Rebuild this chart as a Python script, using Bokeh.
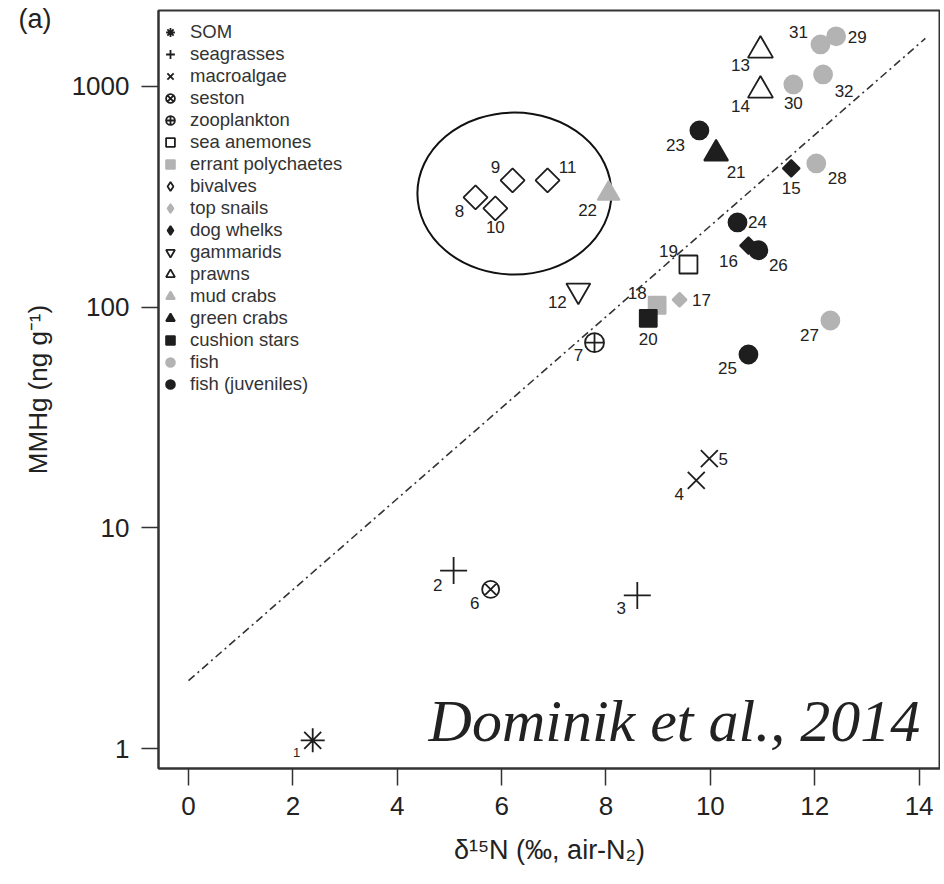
import math
from bokeh.plotting import figure
from bokeh.models import ColumnDataSource, Range1d, FixedTicker, NumeralTickFormatter, Label
from bokeh.embed import file_html
from bokeh.resources import INLINE
from bokeh.core.properties import value

# ---------------- data ----------------
point_id = list(range(1, 33))
d15n = [2.38, 5.08, 8.60, 9.73, 9.98, 5.79, 7.78, 5.50, 6.21, 5.88, 6.88, 7.47,
        10.96, 10.96, 11.55, 10.73, 9.41, 8.98, 9.58, 8.81, 10.11, 8.05, 9.79,
        10.52, 10.73, 10.92, 12.30, 12.03, 12.41, 11.59, 12.11, 12.16]
mmhg = [1.09, 6.4, 4.94, 16.4, 20.6, 5.26, 69, 314, 375, 280, 375, 119,
        1456, 959, 425, 190, 108, 102, 156, 89, 496, 327, 632,
        242, 61, 181, 87, 448, 1687, 1021, 1550, 1133]
group = ["SOM", "seagrasses", "seagrasses", "macroalgae", "macroalgae", "seston",
         "zooplankton", "bivalves", "bivalves", "bivalves", "bivalves", "gammarids",
         "prawns", "prawns", "dog whelks", "dog whelks", "top snails",
         "errant polychaetes", "sea anemones", "cushion stars", "green crabs",
         "mud crabs", "fish (juveniles)", "fish (juveniles)", "fish (juveniles)",
         "fish (juveniles)", "fish", "fish", "fish", "fish", "fish", "fish"]
legend_order = ["SOM", "seagrasses", "macroalgae", "seston", "zooplankton",
                "sea anemones", "errant polychaetes", "bivalves", "top snails",
                "dog whelks", "gammarids", "prawns", "mud crabs", "green crabs",
                "cushion stars", "fish", "fish (juveniles)"]
fit_d15n = [0.0, 14.12]
fit_mmhg = [2.03, 1650.0]
x_ticks = [0, 2, 4, 6, 8, 10, 12, 14]
y_ticks = [1, 10, 100, 1000]
highlight_d15n = [6.245]   # ellipse around the bivalves
highlight_mmhg = [327]

# ---------------- styles ----------------
GREY = "#b3b3b3"
INK = "#1e1e1e"
FONT = "Liberation Sans"
Q = math.pi / 4
style = {
    "SOM": dict(marker="asterisk", size=24, line_color=INK, fill_color=None, angle=0),
    "seagrasses": dict(marker="cross", size=27, line_color=INK, fill_color=None, angle=0),
    "macroalgae": dict(marker="x", size=24, line_color=INK, fill_color=None, angle=0),
    "seston": dict(marker="circle_x", size=17, line_color=INK, fill_color=None, angle=0),
    "zooplankton": dict(marker="circle_cross", size=19, line_color=INK, fill_color=None, angle=0),
    "sea anemones": dict(marker="square", size=18, line_color=INK, fill_color=None, angle=0),
    "errant polychaetes": dict(marker="square", size=17, line_color=GREY, fill_color=GREY, angle=0),
    "bivalves": dict(marker="square", size=17, line_color=INK, fill_color=None, angle=Q),
    "top snails": dict(marker="square", size=10, line_color=GREY, fill_color=GREY, angle=Q),
    "dog whelks": dict(marker="square", size=12, line_color=INK, fill_color=INK, angle=Q),
    "gammarids": dict(marker="inverted_triangle", size=24, line_color=INK, fill_color=None, angle=0),
    "prawns": dict(marker="triangle", size=25, line_color=INK, fill_color=None, angle=0),
    "mud crabs": dict(marker="triangle", size=22, line_color=GREY, fill_color=GREY, angle=0),
    "green crabs": dict(marker="triangle", size=24, line_color=INK, fill_color=INK, angle=0),
    "cushion stars": dict(marker="square", size=17, line_color=INK, fill_color=INK, angle=0),
    "fish": dict(marker="circle", size=18, line_color=GREY, fill_color=GREY, angle=0),
    "fish (juveniles)": dict(marker="circle", size=18, line_color=INK, fill_color=INK, angle=0),
}
# label offsets in screen pixels (dx right, dy down)
label_offset = {1: (-16, 12), 2: (-16, 14), 3: (-16, 13), 4: (-17, 14), 5: (14, 0),
                6: (-16, 14), 7: (-16, 12), 8: (-16, 14), 9: (-17, -13), 10: (0, 19),
                11: (20, -13), 12: (-21, 12), 13: (-20, 15), 14: (-20, 16), 15: (0, 20),
                16: (-20, 15), 17: (22, 0), 18: (-20, -12), 19: (-20, -14), 20: (0, 21),
                21: (20, 18), 22: (-21, 16), 23: (-24, 15), 24: (20, 0), 25: (-21, 13),
                26: (20, 15), 27: (-21, 15), 28: (21, 15), 29: (21, 1), 30: (0, 19),
                31: (-22, -12), 32: (21, 17)}

p = figure(width=940, height=876, output_backend="svg", toolbar_location=None,
           y_axis_type="log", title="(a)",
           x_range=Range1d(-0.575, 14.41), y_range=Range1d(0.812, 2208),
           min_border_left=158, min_border_right=0, min_border_top=10,
           min_border_bottom=108)
p.background_fill_color = "white"
p.border_fill_color = "white"
p.outline_line_color = "#333333"
p.outline_line_width = 2
p.xgrid.visible = False
p.ygrid.visible = False

# panel letter as a title pulled down beside the frame
p.title.align = "left"
p.title.offset = -140
p.title.standoff = -47
p.title.text_font = FONT
p.title.text_font_size = "27px"
p.title.text_font_style = "normal"
p.title.text_color = "#222222"

# axes
for ax in (p.xaxis[0], p.yaxis[0]):
    ax.axis_line_color = "#333333"
    ax.axis_line_width = 2
    ax.major_tick_line_color = "#333333"
    ax.major_tick_line_width = 1.5
    ax.major_tick_out = 17
    ax.major_tick_in = 0
    ax.minor_tick_line_color = None
    ax.major_label_text_font = FONT
    ax.major_label_text_font_size = "26px"
    ax.major_label_text_color = "#222222"
    ax.axis_label_text_font = FONT
    ax.axis_label_text_font_style = "normal"
    ax.axis_label_text_color = "#222222"
p.xaxis.ticker = FixedTicker(ticks=x_ticks, minor_ticks=[])
p.yaxis.ticker = FixedTicker(ticks=y_ticks, minor_ticks=[])
p.yaxis.formatter = NumeralTickFormatter(format="0")
p.xaxis.major_label_standoff = 11
p.yaxis.major_label_standoff = 12
p.xaxis.axis_label = "δ¹⁵N (‰, air-N₂)"
p.yaxis.axis_label = "MMHg (ng g⁻¹)"
p.xaxis.axis_label_text_font_size = "27px"
p.yaxis.axis_label_text_font_size = "26px"
p.xaxis.axis_label_standoff = 17
p.yaxis.axis_label_standoff = 16

# regression line
p.line(fit_d15n, fit_mmhg, line_color="#333333", line_width=1.6, line_dash="8 4 2 4")

# ellipse around bivalves
p.ellipse(x=highlight_d15n, y=highlight_mmhg, width=194, height=162,
          width_units="screen", height_units="screen",
          fill_color=None, line_color="#111111", line_width=2)

# points per group; diamond groups get a zero-size diamond twin that only shows in the legend
for g in legend_order:
    idx = [i for i, gg in enumerate(group) if gg == g]
    src = ColumnDataSource(dict(x=[d15n[i] for i in idx], y=[mmhg[i] for i in idx]))
    s = style[g]
    common = dict(line_color=s["line_color"], fill_color=s["fill_color"], line_width=1.8)
    if s["angle"]:
        p.scatter("x", "y", source=src, marker="diamond", size=0, legend_label=g, **common)
        p.scatter("x", "y", source=src, marker=s["marker"], size=s["size"],
                  angle=s["angle"], **common)
    else:
        p.scatter("x", "y", source=src, marker=s["marker"], size=s["size"],
                  legend_label=g, **common)

# point number labels
lab_src = ColumnDataSource(dict(
    x=d15n, y=mmhg, text=[str(i) for i in point_id],
    dx=[label_offset[i][0] for i in point_id],
    dy=[label_offset[i][1] for i in point_id],
    fs=["13px" if i == 1 else "17px" for i in point_id]))
p.text(x="x", y="y", text="text", x_offset="dx", y_offset="dy", source=lab_src,
       text_font=value(FONT), text_font_size="fs", text_color="#222222",
       text_align="center", text_baseline="middle")

# legend
lg = p.legend[0]
lg.location = (0, 373)
lg.margin = 0
lg.padding = 2
lg.spacing = 0
lg.glyph_width = 24
lg.glyph_height = 22
lg.label_height = 22
lg.label_standoff = 8
lg.label_text_font = FONT
lg.label_text_font_size = "18.5px"
lg.label_text_color = "#333333"
lg.border_line_color = None
lg.background_fill_alpha = 0

# citation
p.add_layout(Label(x=14.02, y=1.33, text="Dominik et al., 2014",
                   text_font="Liberation Serif", text_font_style="italic",
                   text_font_size="60px", text_color="#222222",
                   text_align="right", text_baseline="alphabetic"))

open("out.html", "w").write(file_html(p, INLINE))
